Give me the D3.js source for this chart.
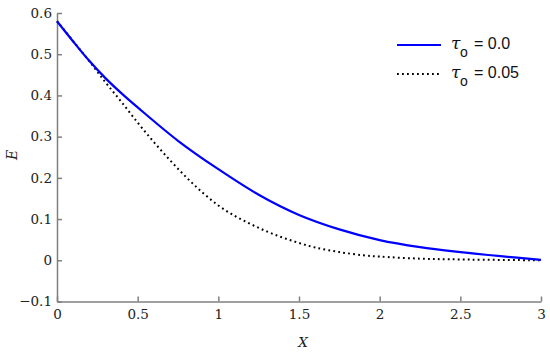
<!DOCTYPE html>
<html lang="en">
<head>
<meta charset="utf-8">
<title>E versus X</title>
<style>
  body { margin: 0; background: #fff; }
</style>
</head>
<body>
<div id="chart"></div>
<script src="https://cdn.jsdelivr.net/npm/d3@7"></script>
<script>
// values
var xTau0 = [0, 0.1, 0.2, 0.3, 0.4, 0.5, 0.75, 1.0, 1.25, 1.5, 1.75, 2.0, 2.25, 2.5, 2.75, 3.0];
var eTau0 = [0.580, 0.531, 0.484, 0.442, 0.405, 0.371, 0.290, 0.221, 0.159, 0.110, 0.075, 0.049, 0.032, 0.020, 0.010, 0.001];

var xTau05 = [0, 0.1, 0.2, 0.3, 0.4, 0.5, 0.6, 0.7, 0.8, 0.9, 1.0, 1.1, 1.2, 1.3, 1.4, 1.5, 1.6, 1.75, 1.9, 2.0, 2.25, 2.5, 3.0];
var eTau05 = [0.580, 0.532, 0.483, 0.432, 0.384, 0.334, 0.287, 0.243, 0.202, 0.165, 0.133, 0.108, 0.088, 0.070, 0.055, 0.042, 0.031, 0.020, 0.012, 0.009, 0.004, 0.002, 0.000];

var xTicks = [0, 0.5, 1, 1.5, 2, 2.5, 3];
var yTicks = [-0.1, 0, 0.1, 0.2, 0.3, 0.4, 0.5, 0.6];

var legendLabels = ["0.0", "0.05"];

var serif = "'DejaVu Serif', serif";
var sans = "'Liberation Sans', Arial, sans-serif";

var width = 550, height = 353;
var margin = {top: 13, right: 9, bottom: 51.5, left: 57};

var svg = d3.select("#chart").append("svg")
  .attr("width", width)
  .attr("height", height);

var x = d3.scaleLinear().domain([0, 3]).range([margin.left, width - margin.right]);
var y = d3.scaleLinear().domain([-0.1, 0.6]).range([height - margin.bottom, margin.top]);

var xAxis = svg.append("g")
  .attr("transform", "translate(0," + y(-0.1) + ")")
  .call(d3.axisBottom(x).tickValues(xTicks).tickFormat(d3.format("")).tickSizeInner(-5).tickSizeOuter(0).tickPadding(8));

var yAxis = svg.append("g")
  .attr("transform", "translate(" + x(0) + ",0)")
  .call(d3.axisLeft(y).tickValues(yTicks).tickFormat(function(d){ return d3.format("")(+d.toFixed(1)); }).tickSizeInner(-5).tickSizeOuter(0).tickPadding(5));

[xAxis, yAxis].forEach(function(a){
  a.attr("font-family", serif).attr("font-size", 13.5);
  a.selectAll("path, line").attr("stroke", "#808080").attr("stroke-width", 1.5);
  a.selectAll("text").attr("fill", "#222");
});

svg.append("text")
  .attr("x", (x(0) + x(3)) / 2 + 4)
  .attr("y", 347)
  .attr("text-anchor", "middle")
  .style("font-family", serif)
  .style("font-style", "italic")
  .style("font-size", "13.5px")
  .attr("fill", "#222")
  .text("X");

svg.append("text")
  .attr("transform", "translate(17,155) rotate(-90)")
  .attr("text-anchor", "middle")
  .style("font-family", serif)
  .style("font-style", "italic")
  .style("font-size", "14px")
  .attr("fill", "#222")
  .text("E");

var line = d3.line()
  .x(function(d){ return x(d[0]); })
  .y(function(d){ return y(d[1]); })
  .curve(d3.curveCatmullRom.alpha(0.5));

svg.append("path")
  .datum(d3.zip(xTau05, eTau05))
  .attr("d", line)
  .attr("fill", "none")
  .attr("stroke", "#000")
  .attr("stroke-width", 2)
  .attr("stroke-dasharray", "1.8,3.2");

svg.append("path")
  .datum(d3.zip(xTau0, eTau0))
  .attr("d", line)
  .attr("fill", "none")
  .attr("stroke", "#0000ff")
  .attr("stroke-width", 2.2);

// legend
var legend = svg.append("g").style("font-family", sans).attr("fill", "#111");
var styles = [{stroke: "#0000ff", dash: null}, {stroke: "#000", dash: "1.8,3.2"}];

legendLabels.forEach(function(lab, i){
  var yy = 45 + i * 29;
  legend.append("line")
    .attr("x1", 397).attr("x2", 441)
    .attr("y1", yy).attr("y2", yy)
    .attr("stroke", styles[i].stroke)
    .attr("stroke-width", 2)
    .attr("stroke-dasharray", styles[i].dash);
  legend.append("text")
    .attr("x", 451).attr("y", yy + 4)
    .style("font-family", "'DejaVu Serif', serif")
    .style("font-style", "italic")
    .style("font-size", "17px")
    .text("\u03c4");
  legend.append("text")
    .attr("x", 460).attr("y", yy + 12)
    .style("font-size", "14px")
    .text("o");
  legend.append("text")
    .attr("x", 474).attr("y", yy + 3.5)
    .style("font-size", "16px")
    .text("= " + lab);
});
</script>
</body>
</html>
